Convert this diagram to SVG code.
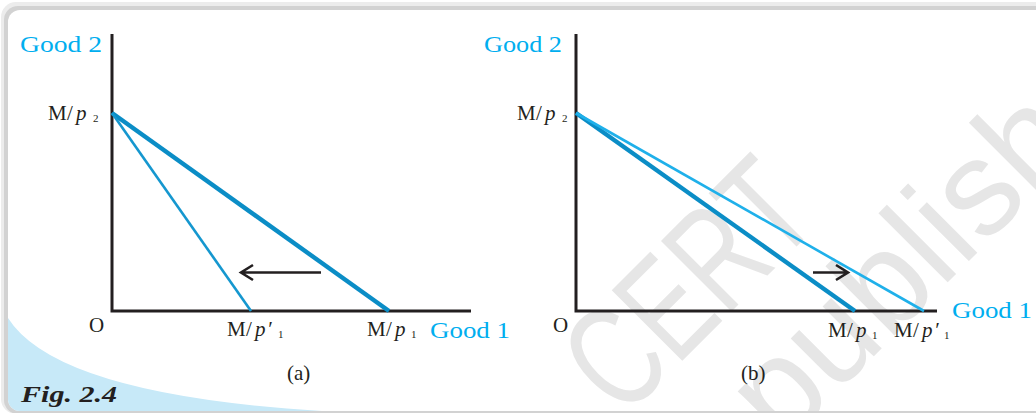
<svg xmlns="http://www.w3.org/2000/svg" width="1036" height="413" viewBox="0 0 1036 413">
  <style>
    .lbl { font-family: "Liberation Serif", "Times New Roman", serif; fill: #231f20; }
    .m { font-family: "Liberation Serif", "Times New Roman", serif; fill: #231f20; font-size: 21px; }
    .cy { font-family: "Liberation Serif", "Times New Roman", serif; fill: #00aeef; font-size: 24px; }
    .it { font-style: italic; }
    .sub { font-size: 11px; }
    .axis { stroke: #231f20; stroke-width: 3; fill: none; }
    .thick { stroke: #0b8dc6; stroke-width: 4.4; stroke-linecap: butt; }
    .thinA { stroke: #1597cf; stroke-width: 2.6; }
    .thinB { stroke: #1fb0ea; stroke-width: 2.6; }
    .arrow { stroke: #231f20; stroke-width: 2.6; fill: none; }
    .wm { font-family: "Liberation Sans", Arial, sans-serif; fill: #e6e6e6; }
  </style>
  <defs>
    <clipPath id="card">
      <rect x="8" y="10" width="1100" height="401" rx="12"/>
    </clipPath>
  </defs>

  <!-- frame -->
  <g id="frame">
    <rect x="0" y="0" width="1036" height="413" fill="#ffffff"/>
    <rect x="1" y="2" width="1100" height="412" rx="15" fill="#ececec"/>
    <rect x="4" y="6" width="1100" height="408" rx="14" fill="#d2d2d2"/>
    <rect x="8" y="10" width="1100" height="401" rx="12" fill="#ffffff"/>
    <path d="M8,318 Q60,400 360,413 L8,413 Z" fill="#c7e9f8" clip-path="url(#card)"/>
  </g>

  <!-- watermark -->
  <g id="watermark" clip-path="url(#card)">
    <text class="wm" font-size="145" transform="translate(623,420) rotate(-45) scale(0.72,1)">CERT</text>
    <text class="wm" font-size="135" transform="translate(782,448) rotate(-45)">publish</text>
  </g>

  <!-- panel (a) -->
  <g id="panel-a">
    <g id="a-axes">
      <path class="axis" d="M112,34 L112,311 L471,311"/>
    </g>
    <g id="a-connectors">
      <line class="thick" x1="112" y1="113" x2="389" y2="311"/>
      <line class="thinA" x1="112" y1="113" x2="251" y2="311"/>
      <path class="arrow" d="M321,272.5 L241,272.5 M253,265 L241,272.5 L253,280"/>
    </g>
    <g id="a-good2"><text class="cy" x="20" y="52" textLength="82" lengthAdjust="spacingAndGlyphs">Good 2</text></g>
    <g id="a-mp2"><text class="m" y="120"><tspan x="48">M</tspan><tspan x="67">/</tspan><tspan class="it" x="76">p</tspan><tspan class="sub" x="93" y="122">2</tspan></text></g>
    <g id="a-o"><text class="lbl" x="89" y="332" font-size="21">O</text></g>
    <g id="a-mp1prime"><text class="m" y="336"><tspan x="227">M</tspan><tspan x="246">/</tspan><tspan class="it" x="255">p</tspan><tspan class="it" x="267">′</tspan><tspan class="sub" x="278" y="338">1</tspan></text></g>
    <g id="a-mp1"><text class="m" y="336"><tspan x="367">M</tspan><tspan x="386">/</tspan><tspan class="it" x="395">p</tspan><tspan class="sub" x="411" y="338">1</tspan></text></g>
    <g id="a-good1"><text class="cy" x="430" y="338" textLength="80" lengthAdjust="spacingAndGlyphs">Good 1</text></g>
    <g id="a-caption"><text class="lbl" x="287" y="380" font-size="21">(a)</text></g>
  </g>

  <!-- panel (b) -->
  <g id="panel-b">
    <g id="b-axes">
      <path class="axis" d="M576,34 L576,311 L937,311"/>
    </g>
    <g id="b-connectors">
      <line class="thick" x1="576" y1="113" x2="855" y2="311"/>
      <line class="thinB" x1="576" y1="113" x2="924" y2="311"/>
      <path class="arrow" d="M813,272.5 L848,272.5 M836,265 L848,272.5 L836,280"/>
    </g>
    <g id="b-good2"><text class="cy" x="484" y="52" textLength="78" lengthAdjust="spacingAndGlyphs">Good 2</text></g>
    <g id="b-mp2"><text class="m" y="120"><tspan x="517">M</tspan><tspan x="536">/</tspan><tspan class="it" x="545">p</tspan><tspan class="sub" x="562" y="122">2</tspan></text></g>
    <g id="b-o"><text class="lbl" x="553" y="332" font-size="21">O</text></g>
    <g id="b-mp1"><text class="m" y="337"><tspan x="828">M</tspan><tspan x="847">/</tspan><tspan class="it" x="856">p</tspan><tspan class="sub" x="872" y="339">1</tspan></text></g>
    <g id="b-mp1prime"><text class="m" y="337"><tspan x="894">M</tspan><tspan x="913">/</tspan><tspan class="it" x="922">p</tspan><tspan class="it" x="934">′</tspan><tspan class="sub" x="944" y="339">1</tspan></text></g>
    <g id="b-good1"><text class="cy" x="952" y="318" textLength="80" lengthAdjust="spacingAndGlyphs">Good 1</text></g>
    <g id="b-caption"><text class="lbl" x="741" y="380" font-size="21">(b)</text></g>
  </g>

  <g id="fig-label"><text class="lbl" x="21" y="402" font-size="23" font-weight="bold" font-style="italic" textLength="96" lengthAdjust="spacingAndGlyphs">Fig. 2.4</text></g>
</svg>
